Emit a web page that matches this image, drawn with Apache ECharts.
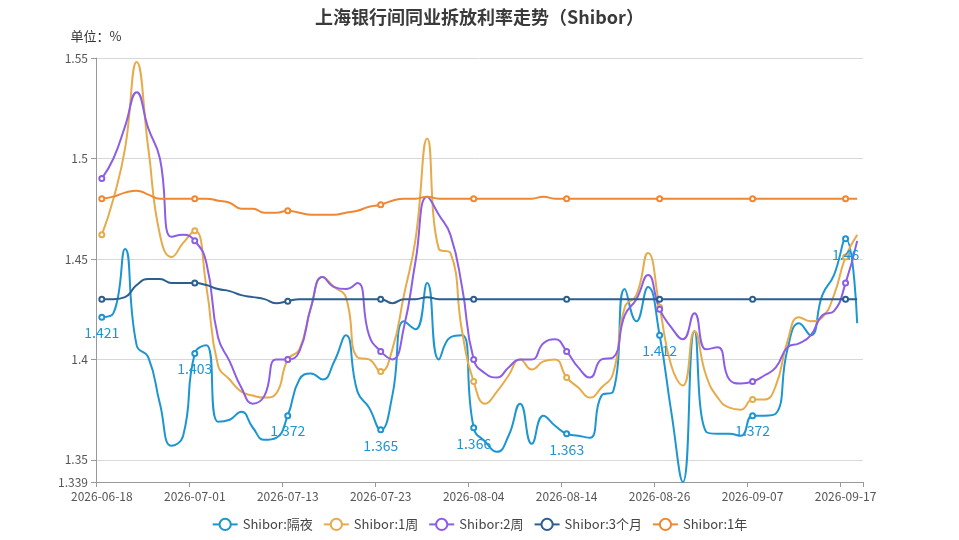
<html>
<head>
<meta charset="utf-8">
<title>上海银行间同业拆放利率走势（Shibor）</title>
<script src="https://cdn.jsdelivr.net/npm/echarts@6/dist/echarts.min.js"></script>
<style>
	html, body { margin: 0; padding: 0; background: #fff; }
</style>
</head>
<body>
	<div id="main" style="width: 959px; height: 540px;"></div>
	<script type="text/javascript">
		// 日期（交易日）
		var dates = [
			'2026-06-18', '2026-06-22', '2026-06-23', '2026-06-24', '2026-06-25', '2026-06-26', '2026-06-29', '2026-06-30',
			'2026-07-01', '2026-07-02', '2026-07-03', '2026-07-06', '2026-07-07', '2026-07-08', '2026-07-09', '2026-07-10',
			'2026-07-13', '2026-07-14', '2026-07-15', '2026-07-16', '2026-07-17', '2026-07-20', '2026-07-21', '2026-07-22',
			'2026-07-23', '2026-07-24', '2026-07-27', '2026-07-28', '2026-07-29', '2026-07-30', '2026-07-31', '2026-08-03',
			'2026-08-04', '2026-08-05', '2026-08-06', '2026-08-07', '2026-08-10', '2026-08-11', '2026-08-12', '2026-08-13',
			'2026-08-14', '2026-08-17', '2026-08-18', '2026-08-19', '2026-08-20', '2026-08-21', '2026-08-24', '2026-08-25',
			'2026-08-26', '2026-08-27', '2026-08-28', '2026-08-31', '2026-09-01', '2026-09-02', '2026-09-03', '2026-09-04',
			'2026-09-07', '2026-09-08', '2026-09-09', '2026-09-10', '2026-09-11', '2026-09-14', '2026-09-15', '2026-09-16',
			'2026-09-17', '2026-09-18'
		];

		// 隔夜
		var overnight = [
			1.421, 1.423, 1.455, 1.407, 1.401, 1.378, 1.357, 1.362,
			1.403, 1.407, 1.369, 1.370, 1.374, 1.366, 1.360, 1.361,
			1.372, 1.390, 1.393, 1.390, 1.399, 1.412, 1.384, 1.376,
			1.365, 1.382, 1.419, 1.415, 1.438, 1.400, 1.411, 1.412,
			1.366, 1.359, 1.354, 1.362, 1.378, 1.358, 1.372, 1.367,
			1.363, 1.362, 1.361, 1.382, 1.384, 1.435, 1.419, 1.436,
			1.412, 1.374, 1.339, 1.414, 1.364, 1.363, 1.363, 1.362,
			1.372, 1.372, 1.373, 1.405, 1.418, 1.412, 1.432, 1.442,
			1.460, 1.418
		];

		// 1周
		var week1 = [
			1.462, 1.480, 1.505, 1.548, 1.505, 1.462, 1.451, 1.458,
			1.464, 1.436, 1.397, 1.390, 1.384, 1.382, 1.381, 1.383,
			1.400, 1.405, 1.426, 1.441, 1.436, 1.431, 1.401, 1.400,
			1.394, 1.405, 1.432, 1.460, 1.510, 1.455, 1.453, 1.414,
			1.389, 1.378, 1.384, 1.392, 1.400, 1.395, 1.399, 1.400,
			1.391, 1.386, 1.381, 1.386, 1.393, 1.426, 1.432, 1.453,
			1.426, 1.397, 1.387, 1.414, 1.392, 1.381, 1.376, 1.375,
			1.380, 1.380, 1.387, 1.409, 1.421, 1.419, 1.421, 1.432,
			1.451, 1.462
		];

		// 2周
		var week2 = [
			1.490, 1.500, 1.516, 1.533, 1.515, 1.500, 1.461, 1.462,
			1.459, 1.448, 1.411, 1.399, 1.386, 1.378, 1.382, 1.400,
			1.400, 1.404, 1.426, 1.441, 1.436, 1.435, 1.438, 1.412,
			1.404, 1.400, 1.416, 1.449, 1.481, 1.472, 1.462, 1.436,
			1.400, 1.393, 1.391, 1.396, 1.400, 1.400, 1.408, 1.410,
			1.404, 1.396, 1.391, 1.400, 1.401, 1.422, 1.430, 1.442,
			1.425, 1.416, 1.410, 1.423, 1.405, 1.406, 1.390, 1.388,
			1.389, 1.392, 1.396, 1.406, 1.408, 1.412, 1.422, 1.424,
			1.438, 1.459
		];

		// 3个月
		var month3 = [
			1.430, 1.430, 1.431, 1.437, 1.440, 1.440, 1.438, 1.438,
			1.438, 1.437, 1.435, 1.434, 1.432, 1.431, 1.430, 1.428,
			1.429, 1.430, 1.430, 1.430, 1.430, 1.430, 1.430, 1.430,
			1.430, 1.428, 1.430, 1.430, 1.431, 1.430, 1.430, 1.430,
			1.430, 1.430, 1.430, 1.430, 1.430, 1.430, 1.430, 1.430,
			1.430, 1.430, 1.430, 1.430, 1.430, 1.430, 1.430, 1.430,
			1.430, 1.430, 1.430, 1.430, 1.430, 1.430, 1.430, 1.430,
			1.430, 1.430, 1.430, 1.430, 1.430, 1.430, 1.430, 1.430,
			1.430, 1.430
		];

		// 1年
		var year1 = [
			1.480, 1.481, 1.483, 1.484, 1.482, 1.480, 1.480, 1.480,
			1.480, 1.480, 1.479, 1.478, 1.475, 1.475, 1.473, 1.473,
			1.474, 1.473, 1.472, 1.472, 1.472, 1.473, 1.474, 1.476,
			1.477, 1.479, 1.480, 1.480, 1.481, 1.480, 1.480, 1.480,
			1.480, 1.480, 1.480, 1.480, 1.480, 1.480, 1.481, 1.480,
			1.480, 1.480, 1.480, 1.480, 1.480, 1.480, 1.480, 1.480,
			1.480, 1.480, 1.480, 1.480, 1.480, 1.480, 1.480, 1.480,
			1.480, 1.480, 1.480, 1.480, 1.480, 1.480, 1.480, 1.480,
			1.480, 1.480
		];

		var seriesNames = ['Shibor:隔夜', 'Shibor:1周', 'Shibor:2周', 'Shibor:3个月', 'Shibor:1年'];
		var colors = ['#1d95d0', '#e6ab4b', '#8c5ee6', '#2c5e8e', '#f08732'];
		var fontFamily = '"Microsoft YaHei", "Noto Sans CJK SC", sans-serif';

		function makeSeries(idx, data, withLabel) {
			return {
				name: seriesNames[idx],
				type: 'line',
				smooth: true,
				symbol: 'emptyCircle',
				symbolSize: 5,
				showAllSymbol: false,   // 只在坐标轴标签处显示点
				lineStyle: { width: 2 },
				label: {
					show: withLabel,
					position: 'bottom',
					fontSize: 14,
					color: colors[idx],
					fontFamily: fontFamily
				},
				data: data
			};
		}

		var myChart = echarts.init(document.getElementById('main'));

		myChart.setOption({
			color: colors,
			textStyle: { fontFamily: fontFamily },
			title: {
				text: '上海银行间同业拆放利率走势（Shibor）',
				left: 'center',
				top: 3,
				textStyle: { fontSize: 18, fontWeight: 'bold', color: '#3a3a3a' }
			},
			legend: {
				bottom: 4,
				itemGap: 10,
				textStyle: { fontSize: 13, color: '#444' },
				data: seriesNames
			},
			grid: {
				left: 96,
				right: 96,
				top: 58,
				bottom: 58
			},
			xAxis: {
				type: 'category',
				boundaryGap: true,
				data: dates,
				axisLine: { lineStyle: { color: '#999' } },
				axisTick: { show: true, interval: 7 },
				axisLabel: { interval: 7, color: '#555', fontSize: 12 }
			},
			yAxis: {
				type: 'value',
				name: '单位：%',
				nameTextStyle: { color: '#333', fontSize: 13 },
				min: 1.339,
				max: 1.55,
				axisLine: { show: true, lineStyle: { color: '#999' } },
				axisTick: { show: true },
				axisLabel: { color: '#555', fontSize: 12 },
				splitLine: { lineStyle: { color: '#d8d8d8' } }
			},
			series: [
				makeSeries(0, overnight, true),
				makeSeries(1, week1, false),
				makeSeries(2, week2, false),
				makeSeries(3, month3, false),
				makeSeries(4, year1, false)
			]
		});
	</script>
</body>
</html>
